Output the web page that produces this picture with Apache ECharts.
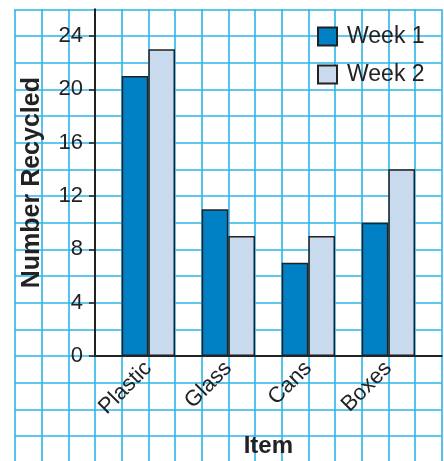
<!DOCTYPE html>
<html>
<head>
<meta charset="utf-8">
<script src="https://cdn.jsdelivr.net/npm/echarts@6/dist/echarts.min.js"></script>
<style>
html,body{margin:0;padding:0;background:#fff;}
#chart{width:444px;height:461px;}
</style>
</head>
<body>
<div id="chart"></div>
<script>
var categories = ['Plastic', 'Glass', 'Cans', 'Boxes'];
var week1 = [21, 11, 7, 10];
var week2 = [23, 9, 9, 14];
var yTicks = [0, 4, 8, 12, 16, 20, 24];
var seriesNames = ['Week 1', 'Week 2'];

var FONT = '"Liberation Sans", Arial, Helvetica, sans-serif';
var GRIDC = '#2bb4ec';
var INK = '#222222';
var cell = 346.67 / 13;

var chart = echarts.init(document.getElementById('chart'), null, {renderer: 'canvas'});
var hidden = {axisLine: {show: false}, axisTick: {show: false}, axisLabel: {show: false}};

chart.setOption({
  animation: false,
  backgroundColor: '#ffffff',
  textStyle: {fontFamily: FONT},
  grid: [
    {left: 15, top: 9.33, width: cell * 16, height: cell * 17, outerBoundsMode: 'none', containLabel: false},
    {left: 95, top: 9.33, width: cell * 13, height: cell * 13, outerBoundsMode: 'none', containLabel: false},
    {left: 95 + cell / 2, top: 9.33, width: cell * 12, height: cell * 13, outerBoundsMode: 'none', containLabel: false}
  ],
  xAxis: [
    Object.assign({gridIndex: 0, type: 'value', min: 0, max: 16, interval: 1,
      splitLine: {show: true, lineStyle: {color: GRIDC, width: 1.6}}}, hidden),
    {gridIndex: 1, type: 'value', min: 0, max: 1, axisLine: {show: true, onZero: false, lineStyle: {color: INK, width: 2}},
      axisTick: {show: false}, axisLabel: {show: false}, splitLine: {show: false}},
    {gridIndex: 2, type: 'category', data: categories,
      axisLine: {show: false}, axisTick: {show: false}, splitLine: {show: false},
      axisLabel: {rotate: 45, fontSize: 22, color: INK, margin: 9, fontFamily: FONT},
      name: 'Item', nameLocation: 'middle', nameGap: 78,
      nameTextStyle: {fontSize: 24, fontWeight: 'bold', color: INK, fontFamily: FONT}}
  ],
  yAxis: [
    Object.assign({gridIndex: 0, type: 'value', min: -8, max: 26, interval: 2,
      splitLine: {show: true, lineStyle: {color: GRIDC, width: 1.6}}}, hidden),
    {gridIndex: 1, type: 'value', min: 0, max: 26, interval: 4,
      axisLine: {show: true, lineStyle: {color: INK, width: 2}},
      axisTick: {show: true, length: 6, lineStyle: {color: INK, width: 1.5}, customValues: yTicks},
      axisLabel: {fontSize: 22, color: INK, margin: 12, fontFamily: FONT, customValues: yTicks},
      splitLine: {show: false},
      name: 'Number Recycled', nameLocation: 'middle', nameGap: 50,
      nameTextStyle: {fontSize: 25, fontWeight: 'bold', color: INK, fontFamily: FONT}},
    Object.assign({gridIndex: 2, type: 'value', min: 0, max: 26, splitLine: {show: false}}, hidden)
  ],
  legend: {
    data: seriesNames,
    orient: 'vertical',
    left: 317, top: 25,
    padding: 0,
    itemWidth: 19, itemHeight: 18, itemGap: 15,
    icon: 'rect',
    textStyle: {fontSize: 23, color: INK, fontFamily: FONT, padding: [0, 0, 0, 5]}
  },
  series: [
    {name: seriesNames[0], type: 'bar', xAxisIndex: 2, yAxisIndex: 2, data: week1,
      barWidth: cell, barGap: '0%',
      itemStyle: {color: '#0081c6', borderColor: INK, borderWidth: 1.5}},
    {name: seriesNames[1], type: 'bar', xAxisIndex: 2, yAxisIndex: 2, data: week2,
      barWidth: cell, barGap: '0%',
      itemStyle: {color: '#c9d9ee', borderColor: INK, borderWidth: 1.5}}
  ]
});
</script>
</body>
</html>
